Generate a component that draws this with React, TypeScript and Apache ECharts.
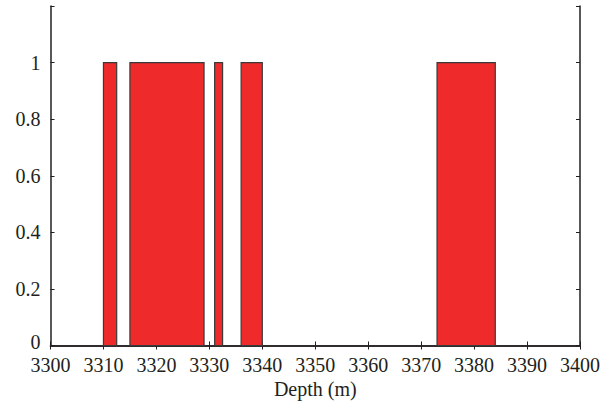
import React, { useEffect, useRef } from "react";
import * as echarts from "echarts";

const intervalStarts = [3310, 3315, 3331, 3336, 3373];
const intervalEnds = [3312.5, 3329, 3332.5, 3340, 3384];
const intervalValues = [1, 1, 1, 1, 1];
const xTicks = [3300, 3310, 3320, 3330, 3340, 3350, 3360, 3370, 3380, 3390, 3400];
const yTickLabels = ["0", "0.2", "0.4", "0.6", "0.8", "1"];

const FONT = "Liberation Serif";
const INK = "#231f20";
const FS = 20;

export default function App() {
  const ref = useRef<HTMLDivElement>(null);
  useEffect(() => {
    if (!ref.current) return;
    const chart = echarts.init(ref.current, undefined, { renderer: "svg" });
    const data = intervalStarts.map((s, i) => [s, intervalEnds[i], intervalValues[i]]);
    const axisLine = { show: true, lineStyle: { color: INK, width: 1.5 } };
    const tick = { show: true, inside: true, length: 4, lineStyle: { color: INK, width: 1 } };
    chart.setOption({
      animation: false,
      grid: { left: 50.5, right: 35, top: 6, bottom: 64.5, containLabel: false },
      xAxis: [
        {
          type: "value",
          min: xTicks[0],
          max: xTicks[xTicks.length - 1],
          interval: 10,
          position: "bottom",
          axisLine,
          axisTick: tick,
          splitLine: { show: false },
          axisLabel: {
            color: INK,
            fontFamily: FONT,
            fontSize: FS,
            lineHeight: 16,
            margin: 11,
            formatter: (v: number) => String(xTicks[Math.round((v - xTicks[0]) / 10)] ?? v),
          },
          name: "Depth (m)",
          nameLocation: "middle",
          nameGap: 25,
          nameTextStyle: { color: INK, fontFamily: FONT, fontSize: FS, verticalAlign: "top" },
        },
        {
          type: "value",
          min: xTicks[0],
          max: xTicks[xTicks.length - 1],
          interval: 10,
          position: "top",
          axisLine,
          axisTick: tick,
          splitLine: { show: false },
          axisLabel: { show: false },
        },
      ],
      yAxis: [
        {
          type: "value",
          min: 0,
          max: 1.2,
          interval: 0.2,
          position: "left",
          axisLine,
          axisTick: tick,
          splitLine: { show: false },
          axisLabel: {
            color: INK,
            fontFamily: FONT,
            fontSize: FS,
            lineHeight: 14,
            margin: 10,
            formatter: (v: number) => {
              const idx = Math.round(v / 0.2);
              if (idx === 0) return "{z|" + yTickLabels[0] + "}";
              return idx < yTickLabels.length ? yTickLabels[idx] : "";
            },
            rich: {
              z: {
                color: INK,
                fontFamily: FONT,
                fontSize: FS,
                lineHeight: 14,
                padding: [0, 0, 8, 0],
              },
            },
          },
        },
        {
          type: "value",
          min: 0,
          max: 1.2,
          interval: 0.2,
          position: "right",
          axisLine,
          axisTick: tick,
          splitLine: { show: false },
          axisLabel: { show: false },
        },
      ],
      series: [
        {
          type: "custom",
          xAxisIndex: 0,
          yAxisIndex: 0,
          data,
          renderItem: (params: any, api: any) => {
            const p0 = api.coord([api.value(0), api.value(2)]);
            const p1 = api.coord([api.value(1), 0]);
            return {
              type: "rect",
              shape: { x: p0[0], y: p0[1], width: p1[0] - p0[0], height: p1[1] - p0[1] },
              style: { fill: "#ee2a2a", stroke: "#3a3a3a", lineWidth: 1.2 },
            };
          },
          z: 1,
        },
      ],
    });
    return () => chart.dispose();
  }, []);
  return (
    <div
      ref={ref}
      style={{ position: "absolute", left: 0, top: 0, width: 615, height: 410, background: "#fff" }}
    />
  );
}
